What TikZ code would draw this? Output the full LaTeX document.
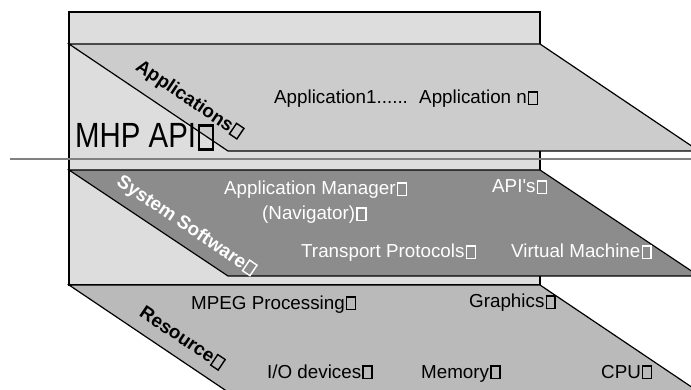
\documentclass[tikz,border=0pt]{standalone}
\usepackage{fontspec}
\setmainfont{Liberation Sans}[Ligatures=TeXOff]
\newcommand\bx{\kern.06em{\setlength\fboxsep{0pt}\setlength\fboxrule{.075em}\fbox{\rule{0pt}{.6em}\rule{.4em}{0pt}}}}
\definecolor{backgray}{gray}{0.865}
\definecolor{appgray}{gray}{0.80}
\definecolor{sysgray}{gray}{0.55}
\definecolor{resgray}{gray}{0.73}
\definecolor{sepgray}{gray}{0.5}
\begin{document}
\begin{tikzpicture}[x=1pt,y=-1pt,
  layer/.style={draw=black, line width=1.2pt, line join=miter},
  lbl/.style={font=\fontsize{18.8}{22}\selectfont, inner sep=0pt, anchor=base west},
  wlbl/.style={lbl, text=white},
  slant/.style={font=\fontsize{18.8}{22}\selectfont\bfseries, inner sep=0pt, rotate=-33.9, anchor=center}]
\clip (0,0) rectangle (691,390);
\fill[white] (0,0) rectangle (691,390);
% back panel
\draw[layer, fill=backgray] (69,12) rectangle (540,285);
% layers
\draw[layer, fill=appgray] (69,44) coordinate (a1) -- (540,44) coordinate (a2) -- (699,151) coordinate (a3) -- (228,151) coordinate (a4) -- cycle;
\draw[layer, fill=sysgray] (69,170) coordinate (s1) -- (540,170) coordinate (s2) -- (699,276) coordinate (s3) -- (228,276) coordinate (s4) -- cycle;
\draw[layer, fill=resgray] (69,285) coordinate (r1) -- (540,285) coordinate (r2) -- (699,392) coordinate (r3) -- (228,392) coordinate (r4) -- cycle;
% separator line
\coordinate (gl) at (10,159);
\coordinate (gr) at (700,159);
\draw[sepgray, line width=1.5pt] (gl) -- (gr);
% labels
\node[slant] (tapp) at (189,100) {Applications\bx};
\node[slant, text=white] (tsys) at (186,226) {System Software\bx};
\node[slant] (tres) at (182,338) {Resource\bx};
\node[lbl, font=\fontsize{35}{40}\selectfont] (mhp) at (75,148) {\scalebox{0.84}[1]{MHP API\bx}};
\node[lbl] (apps) at (274,104) {Application1......\hspace{0.6em}Application n\bx};
\node[wlbl] (mgr) at (224,195) {Application Manager\bx};
\node[wlbl] (nav) at (262,220) {(Navigator)\bx};
\node[wlbl] (api) at (492,193) {API's\bx};
\node[wlbl] (tp) at (301,258) {Transport Protocols\bx};
\node[wlbl] (vm) at (511,258) {Virtual Machine\bx};
\node[lbl] (mpeg) at (191,309) {MPEG Processing\bx};
\node[lbl] (gfx) at (469,308) {Graphics\bx};
\node[lbl] (io) at (267,378) {I/O devices\bx};
\node[lbl] (mem) at (421,378) {Memory\bx};
\node[lbl] (cpu) at (601,378) {CPU\bx};
\end{tikzpicture}
\end{document}
